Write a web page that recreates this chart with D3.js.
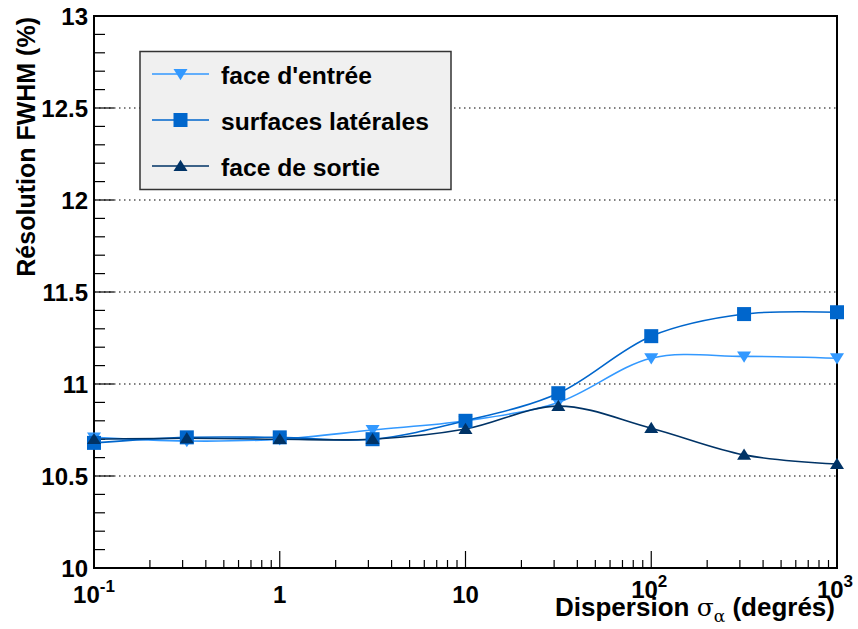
<!DOCTYPE html>
<html><head><meta charset="utf-8">
<script src="https://cdn.jsdelivr.net/npm/d3@7"></script>
<style>body{margin:0;background:#fff}svg{display:block}text{font-family:"Liberation Sans",Arial,sans-serif;font-weight:bold}</style>
</head><body>
<svg id="c" width="858" height="629"></svg>
<script>
const xValues = [0.1, 0.316, 1, 3.16, 10, 31.6, 100, 316, 1000];
const entree   = [10.71, 10.69, 10.70, 10.75, 10.80, 10.90, 11.14, 11.15, 11.14];
const laterale = [10.68, 10.71, 10.71, 10.70, 10.80, 10.95, 11.26, 11.38, 11.39];
const sortie   = [10.70, 10.705, 10.70, 10.70, 10.755, 10.88, 10.76, 10.615, 10.565];
const errEntree   = [0.015, 0.02, 0.01, 0.01, 0.01, 0.01, 0.015, 0.015, 0.015];
const errLaterale = [0.01, 0.01, 0.01, 0.01, 0.01, 0.01, 0.02, 0.02, 0.015];
const errSortie   = [0.01, 0.01, 0.01, 0.01, 0.01, 0.01, 0.01, 0.01, 0.01];
const seriesNames = ["face d'entrée", "surfaces latérales", "face de sortie"];
const seriesColors = ["#3399ff", "#0066cc", "#003366"];
const seriesSymbols = ["tdown", "square", "tup"];
const yTicks = [10, 10.5, 11, 11.5, 12, 12.5, 13];
const yGrid = [10.5, 11, 11.5, 12, 12.5];
const xDecades = [0.1, 1, 10, 100, 1000];

const svg = d3.select("#c");
const L = 94, R = 837, T = 16, B = 568;
const x = d3.scaleLog().domain([0.1, 1000]).range([L, R]);
const y = d3.scaleLinear().domain([10, 13]).range([B, T]);

// grid
svg.append("g").selectAll("line").data(yGrid).join("line")
  .attr("x1", L).attr("x2", R).attr("y1", d => y(d)).attr("y2", d => y(d))
  .attr("stroke", "#000").attr("stroke-width", 1.2).attr("stroke-dasharray", "1.5,3.5");

// y axis ticks
const yMinor = d3.range(10, 13.001, 0.1);
svg.append("g").selectAll("line").data(yMinor).join("line")
  .attr("x1", L).attr("x2", d => L + (Math.abs(d*2 - Math.round(d*2)) < 1e-6 ? 20 : 11))
  .attr("y1", d => y(d)).attr("y2", d => y(d))
  .attr("stroke", "#000").attr("stroke-width", 1.2);
svg.append("g").selectAll("text").data(yTicks).join("text")
  .attr("x", 88).attr("y", d => y(d) + 8.5).attr("text-anchor", "end")
  .attr("font-size", 24).text(d => d3.format("")(d));

// x axis ticks
const xMinorVals = [];
[0.1, 1, 10, 100].forEach(dec => { for (let k = 2; k <= 9; k++) xMinorVals.push(dec * k); });
svg.append("g").selectAll("line").data(xMinorVals).join("line")
  .attr("x1", d => x(d)).attr("x2", d => x(d)).attr("y1", B).attr("y2", B - 8)
  .attr("stroke", "#000").attr("stroke-width", 1.2);
svg.append("g").selectAll("line").data(xDecades).join("line")
  .attr("x1", d => x(d)).attr("x2", d => x(d)).attr("y1", B).attr("y2", B - 17)
  .attr("stroke", "#000").attr("stroke-width", 1.2);
const xl = svg.append("g");
xDecades.forEach(d => {
  const e = Math.round(Math.log10(d));
  const t = xl.append("text").attr("font-size", 24).attr("text-anchor", "middle");
  if (e === 0) { t.attr("x", x(d)).attr("y", 603).text("1"); }
  else if (e === 1) { t.attr("x", x(d)).attr("y", 603).text("10"); }
  else {
    t.attr("x", e < 0 ? x(d) : x(d) - 2).attr("y", e < 0 ? 603 : 598);
    t.append("tspan").text("10");
    t.append("tspan").attr("dy", -11).attr("font-size", 17).text(String(e));
  }
});

// frame
svg.append("rect").attr("x", L).attr("y", T).attr("width", R - L).attr("height", B - T)
  .attr("fill", "none").attr("stroke", "#000").attr("stroke-width", 2);

// titles
svg.append("text").attr("transform", `translate(35,${T+1}) rotate(-90)`)
  .attr("text-anchor", "end").attr("font-size", 25).text("Résolution FWHM (%)");
const xt = svg.append("text").attr("x", 835).attr("y", 616).attr("text-anchor", "end").attr("font-size", 26);
xt.append("tspan").text("Dispersion ");
xt.append("tspan").attr("font-weight", "normal").attr("font-family", "DejaVu Serif").attr("font-size", 25).text("σ");
xt.append("tspan").attr("font-weight", "normal").attr("font-family", "DejaVu Serif").attr("font-size", 17).attr("dy", 6).text("α");
xt.append("tspan").attr("dy", -6).text(" (degrés)");

// symbols
function drawSym(g, type, cx, cy, color) {
  const s = 7;
  if (type === "square") {
    g.append("rect").attr("x", cx - s).attr("y", cy - s).attr("width", 2*s).attr("height", 2*s).attr("fill", color);
  } else if (type === "tup") {
    g.append("path").attr("d", `M${cx-s},${cy+s*0.7}L${cx+s},${cy+s*0.7}L${cx},${cy-s*0.9}Z`).attr("fill", color);
  } else {
    g.append("path").attr("d", `M${cx-s},${cy-s*0.7}L${cx+s},${cy-s*0.7}L${cx},${cy+s*0.9}Z`).attr("fill", color);
  }
}

const allSeries = [entree, laterale, sortie];
const allErr = [errEntree, errLaterale, errSortie];
const plot = svg.append("g");
const line = d3.line().x(d => x(d[0])).y(d => y(d[1])).curve(d3.curveCatmullRom.alpha(0.5));
allSeries.forEach((vals, i) => {
  const pts = xValues.map((xv, j) => [xv, vals[j]]);
  plot.append("path").attr("d", line(pts)).attr("fill", "none")
    .attr("stroke", seriesColors[i]).attr("stroke-width", 1.6);
});
allSeries.forEach((vals, i) => {
  const g = plot.append("g");
  xValues.forEach((xv, j) => {
    g.append("line").attr("x1", x(xv)).attr("x2", x(xv))
      .attr("y1", y(vals[j] - allErr[i][j])).attr("y2", y(vals[j] + allErr[i][j]))
      .attr("stroke", seriesColors[i]).attr("stroke-width", 1.6);
    drawSym(g, seriesSymbols[i], x(xv), y(vals[j]), seriesColors[i]);
  });
});

// legend
const legendWidths = [151, 208, 159];
const lg = svg.append("g");
lg.append("rect").attr("x", 140).attr("y", 51.5).attr("width", 311).attr("height", 138)
  .attr("fill", "#f0f0f0").attr("stroke", "#333").attr("stroke-width", 1.5);
seriesNames.forEach((n, i) => {
  const yy = 74 + i * 46;
  lg.append("line").attr("x1", 152).attr("x2", 209).attr("y1", yy).attr("y2", yy)
    .attr("stroke", seriesColors[i]).attr("stroke-width", 1.6);
  drawSym(lg, seriesSymbols[i], 180.5, yy, seriesColors[i]);
  lg.append("text").attr("x", 221).attr("y", yy + 10).attr("font-size", 23)
    .attr("textLength", legendWidths[i]).attr("lengthAdjust", "spacingAndGlyphs").text(n);
});
</script>
</body></html>
